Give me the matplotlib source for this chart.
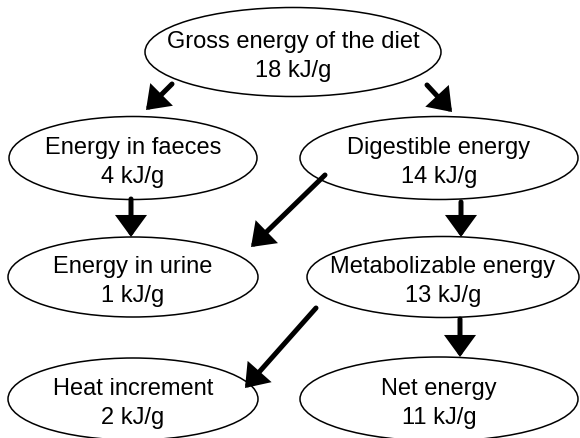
import matplotlib
matplotlib.use("Agg")
import matplotlib.pyplot as plt
from matplotlib.patches import Ellipse, FancyArrowPatch

# Node labels and energy values (kJ/g)
names = [
    "Gross energy of the diet",
    "Energy in faeces",
    "Digestible energy",
    "Energy in urine",
    "Metabolizable energy",
    "Heat increment",
    "Net energy",
]
values = [18, 4, 14, 1, 13, 2, 11]

# Layout in pixel coordinates (x, y, width, height)
boxes = [
    (293, 53, 296, 89),
    (133, 159, 248, 83),
    (439, 159, 278, 83),
    (133, 278, 250, 80),
    (443, 278, 272, 81),
    (133, 400, 250, 82),
    (439, 400, 278, 84),
]

# Arrows: start -> end
arrows = [
    ((172, 85), (146, 111)),
    ((427, 86), (452, 113)),
    ((131, 200), (131, 238)),
    ((325, 176), (251, 248)),
    ((461, 203), (461, 238)),
    ((316, 309), (245, 389)),
    ((460, 320), (460, 358)),
]

fig = plt.figure(figsize=(5.8, 4.39), dpi=100)
ax = fig.add_axes([0, 0, 1, 1])
ax.set_xlim(0, 580)
ax.set_ylim(439, 0)
ax.axis("off")

for (x, y, w, h), name, val in zip(boxes, names, values):
    ax.add_patch(Ellipse((x, y), w, h, fill=False, edgecolor="black", lw=1.1))
    ax.text(x, y - 11, name, ha="center", va="center",
            fontsize=17, family="Liberation Sans")
    ax.text(x, y + 18, f"{val} kJ/g", ha="center", va="center",
            fontsize=17, family="Liberation Sans")

for start, end in arrows:
    arr = FancyArrowPatch(start, end, arrowstyle="-|>,head_length=0.55,head_width=0.4",
                          mutation_scale=20, lw=3.6, color="black",
                          shrinkA=0, shrinkB=0, joinstyle="miter")
    ax.add_patch(arr)

fig.savefig("out.png", dpi=100)
